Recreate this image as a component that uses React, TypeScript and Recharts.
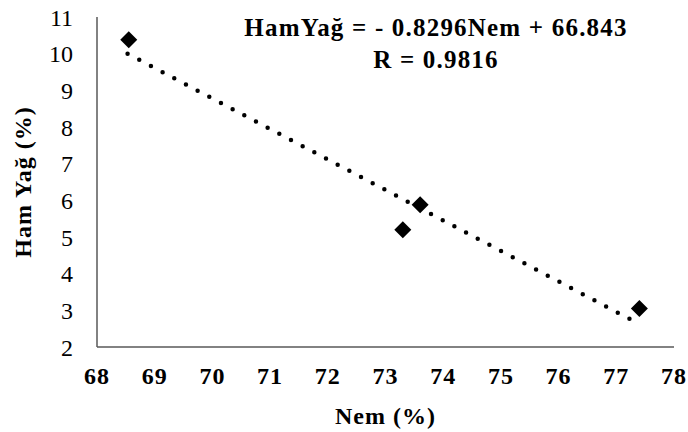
import { ScatterChart, Scatter, XAxis, YAxis, ZAxis } from "recharts"

// measured points: moisture (Nem %) vs crude oil (Ham Yağ %)
const nem = [68.55, 73.3, 73.6, 77.4]
const hamYag = [10.38, 5.2, 5.88, 3.05]

// dotted trend line ends
const trendNem = [68.53, 77.25]
const trendHamYag = [10.0, 2.75]

const xTicks = [68, 69, 70, 71, 72, 73, 74, 75, 76, 77, 78]
const yTicks = [2, 3, 4, 5, 6, 7, 8, 9, 10, 11]

const equationText = "HamYağ = - 0.8296Nem + 66.843"
const rText = "R = 0.9816"

const points = nem.map((x, i) => ({ x, y: hamYag[i] }))
const trend = trendNem.map((x, i) => ({ x, y: trendHamYag[i] }))

const font = "Liberation Serif, Tinos, Times New Roman, serif"
const axisColor = "#595959"

const Diamond = (props: any) => {
  const { cx, cy } = props
  const r = 8.5
  return (
    <polygon
      points={`${cx},${cy - r} ${cx + r},${cy} ${cx},${cy + r} ${cx - r},${cy}`}
      fill="#000"
    />
  )
}

export default function App() {
  return (
    <div style={{ position: "absolute", left: 0, top: 0, width: 688, height: 432, background: "#fff", fontFamily: font }}>
      <ScatterChart width={688} height={432} margin={{ top: 17, right: 14, left: 0, bottom: 0 }} style={{ fontFamily: font }}>
        <XAxis
          type="number"
          dataKey="x"
          domain={[68, 78]}
          ticks={xTicks}
          interval={0}
          height={85}
          tickLine={false}
          tickSize={0}
          tickMargin={20}
          axisLine={{ stroke: axisColor, strokeWidth: 1.5 }}
          tick={{ fill: "#000", fontSize: 24, fontWeight: "bold", fontFamily: font, letterSpacing: 1 }}
          label={{
            value: "Nem (%)",
            position: "insideBottom",
            offset: 8,
            fill: "#000",
            fontSize: 24,
            fontWeight: "bold",
            fontFamily: font,
            letterSpacing: 1,
          }}
        />
        <YAxis
          type="number"
          dataKey="y"
          domain={[2, 11]}
          ticks={yTicks}
          interval={0}
          width={97}
          tickLine={false}
          tickSize={0}
          tickMargin={24}
          axisLine={{ stroke: axisColor, strokeWidth: 1.5 }}
          tick={{ fill: "#000", fontSize: 24, fontFamily: font }}
          label={{
            value: "Ham Yağ (%)",
            angle: -90,
            position: "insideLeft",
            offset: 22,
            textAnchor: "middle",
            fill: "#000",
            fontSize: 24,
            fontWeight: "bold",
            fontFamily: font,
            letterSpacing: 1,
          }}
        />
        <ZAxis range={[150, 150]} />
        <Scatter
          data={trend}
          isAnimationActive={false}
          shape={() => null}
          line={{ stroke: "#000", strokeWidth: 4.5, strokeDasharray: "0 13.2", strokeLinecap: "round" }}
        />
        <Scatter data={points} isAnimationActive={false} shape={Diamond} />
      </ScatterChart>
      <div
        style={{
          position: "absolute",
          left: 236,
          top: 12,
          width: 400,
          textAlign: "center",
          fontSize: 25,
          fontWeight: "bold",
          letterSpacing: 1.2,
          lineHeight: "32px",
          color: "#000",
        }}
      >
        <div>{equationText}</div>
        <div>{rText}</div>
      </div>
    </div>
  )
}
